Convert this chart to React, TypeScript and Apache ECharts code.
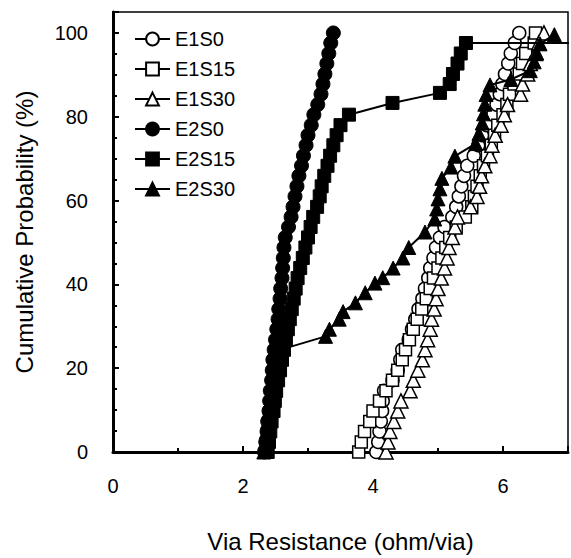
import React, { useEffect, useRef } from "react";
import * as echarts from "echarts";

const seriesNames = ["E1S0", "E1S15", "E1S30", "E2S0", "E2S15", "E2S30"];

const e1s0: [number, number][] = [
  [4.05, 0], [4.08, 2.4], [4.1, 4.9], [4.12, 7.3], [4.14, 9.8], [4.15, 12.2], [4.17, 14.6],
  [4.3, 17.1], [4.38, 19.5], [4.42, 22], [4.45, 24.4], [4.55, 26.8], [4.6, 29.3], [4.65, 31.7],
  [4.7, 34.1], [4.76, 36.6], [4.8, 39], [4.85, 41.5], [4.88, 43.9], [4.93, 46.3], [4.97, 48.8],
  [5.03, 51.2], [5.1, 53.7], [5.22, 56.1], [5.28, 58.5], [5.32, 61], [5.36, 63.4], [5.4, 65.9],
  [5.45, 68.3], [5.55, 70.7], [5.62, 73.2], [5.68, 75.6], [5.75, 78], [5.85, 80.5], [5.9, 82.9],
  [5.95, 85.4], [5.99, 87.8], [6.03, 90.2], [6.08, 92.7], [6.12, 95.1], [6.18, 97.6], [6.25, 100],
];

const e1s15: [number, number][] = [
  [3.78, 0], [3.82, 2.4], [3.87, 4.9], [3.95, 7.3], [4.0, 9.8], [4.1, 12.2], [4.2, 14.6],
  [4.3, 17.1], [4.38, 19.5], [4.45, 22], [4.5, 24.4], [4.56, 26.8], [4.62, 29.3], [4.68, 31.7],
  [4.75, 34.1], [4.82, 36.6], [4.88, 39], [4.93, 41.5], [5.0, 43.9], [5.06, 46.3], [5.12, 48.8],
  [5.18, 51.2], [5.28, 53.7], [5.42, 56.1], [5.52, 58.5], [5.56, 61], [5.6, 63.4], [5.65, 65.9],
  [5.7, 68.3], [5.76, 70.7], [5.82, 73.2], [5.87, 75.6], [5.92, 78], [6.0, 80.5], [6.06, 82.9],
  [6.1, 85.4], [6.17, 87.8], [6.25, 90.2], [6.3, 92.7], [6.35, 95.1], [6.48, 97.6], [6.5, 100],
];

const e1s30: [number, number][] = [
  [4.2, 0], [4.23, 2.4], [4.26, 4.9], [4.32, 7.3], [4.38, 9.8], [4.43, 12.2], [4.57, 14.6],
  [4.62, 17.1], [4.69, 19.5], [4.76, 22], [4.8, 24.4], [4.84, 26.8], [4.88, 29.3], [4.9, 31.7],
  [4.94, 34.1], [4.97, 36.6], [5.0, 39], [5.05, 41.5], [5.1, 43.9], [5.14, 46.3], [5.17, 48.8],
  [5.22, 51.2], [5.26, 53.7], [5.3, 56.1], [5.5, 58.5], [5.6, 61], [5.64, 63.4], [5.67, 65.9],
  [5.72, 68.3], [5.8, 70.7], [5.83, 73.2], [5.88, 75.6], [5.97, 78], [6.02, 80.5], [6.07, 82.9],
  [6.27, 85.4], [6.3, 87.8], [6.38, 90.2], [6.42, 92.7], [6.5, 95.1], [6.55, 97.6], [6.63, 100],
];

const e2s0: [number, number][] = [
  [2.33, 0], [2.35, 2.4], [2.37, 4.9], [2.38, 7.3], [2.4, 9.8], [2.41, 12.2], [2.42, 14.6],
  [2.44, 17.1], [2.45, 19.5], [2.46, 22], [2.48, 24.4], [2.5, 26.8], [2.52, 29.3], [2.54, 31.7],
  [2.55, 34.1], [2.57, 36.6], [2.58, 39], [2.6, 41.5], [2.61, 43.9], [2.62, 46.3], [2.63, 48.8],
  [2.65, 51.2], [2.7, 53.7], [2.74, 56.1], [2.77, 58.5], [2.8, 61], [2.83, 63.4], [2.86, 65.9],
  [2.9, 68.3], [2.93, 70.7], [2.97, 73.2], [3.0, 75.6], [3.05, 78], [3.09, 80.5], [3.15, 82.9],
  [3.2, 85.4], [3.23, 87.8], [3.26, 90.2], [3.29, 92.7], [3.32, 95.1], [3.35, 97.6], [3.39, 100],
];

const e2s15: [number, number][] = [
  [2.38, 0], [2.4, 2.4], [2.42, 4.9], [2.44, 7.3], [2.47, 9.8], [2.49, 12.2], [2.51, 14.6],
  [2.54, 17.1], [2.57, 19.5], [2.6, 22], [2.63, 24.4], [2.66, 26.8], [2.69, 29.3], [2.72, 31.7],
  [2.75, 34.1], [2.78, 36.6], [2.81, 39], [2.84, 41.5], [2.88, 43.9], [2.92, 46.3], [2.96, 48.8],
  [3.0, 51.2], [3.04, 53.7], [3.08, 56.1], [3.14, 58.5], [3.18, 61], [3.21, 63.4], [3.25, 65.9],
  [3.3, 68.3], [3.34, 70.7], [3.39, 73.2], [3.44, 75.6], [3.5, 78], [3.63, 80.5], [4.3, 83.3],
  [5.03, 85.7], [5.18, 87.8], [5.23, 90.2], [5.3, 92.7], [5.35, 95.1], [5.43, 97.6], [7.6, 97.6],
];

const e2s30: [number, number][] = [
  [2.32, 0], [2.34, 2.4], [2.36, 4.9], [2.38, 7.3], [2.4, 9.8], [2.42, 12.2], [2.44, 14.6],
  [2.46, 17.1], [2.49, 19.5], [2.53, 22], [2.62, 24.6], [3.27, 27.6], [3.33, 29.3], [3.48, 31.7],
  [3.54, 33.5], [3.73, 35.6], [3.88, 38], [4.03, 40.3], [4.15, 41.6], [4.31, 43.9], [4.46, 46.3],
  [4.55, 48.8], [4.8, 52.5], [4.95, 55.6], [4.98, 58], [5.0, 60.4], [5.03, 62.8], [5.06, 65.3],
  [5.2, 68], [5.26, 70.6], [5.58, 73.6], [5.63, 76], [5.68, 78.5], [5.7, 80.7], [5.72, 83],
  [5.74, 85.3], [5.8, 87.6], [6.12, 88.9], [6.42, 91], [6.48, 93.1], [6.52, 95.2], [6.57, 97.4],
  [6.79, 99.6],
];

const xTicks = [0, 2, 4, 6];
const yTicks = [0, 20, 40, 60, 80, 100];

const FONT = "'Liberation Sans', Arial, sans-serif";

export default function App() {
  const ref = useRef<HTMLDivElement>(null);
  useEffect(() => {
    if (!ref.current) return;
    const chart = echarts.init(ref.current, undefined, { renderer: "svg" });
    const hollow = { color: "#ffffff", borderColor: "#000000", borderWidth: 1.5 };
    const solid = { color: "#000000", borderColor: "#000000", borderWidth: 1 };
    const mk = (
      name: string,
      data: [number, number][],
      symbol: string,
      size: number,
      filled: boolean
    ) => ({
      name,
      type: "line",
      data,
      symbol,
      symbolSize: size,
      showSymbol: true,
      clip: true,
      lineStyle: { color: "#000000", width: filled ? 2 : 1.5 },
      itemStyle: filled ? solid : hollow,
      emphasis: { disabled: true },
      z: filled ? 3 : 2,
    });
    chart.setOption({
      animation: false,
      backgroundColor: "#ffffff",
      textStyle: { fontFamily: FONT, color: "#000" },
      grid: {
        left: 113,
        right: 1,
        top: 12,
        bottom: 105,
        show: true,
        borderColor: "#000",
        borderWidth: 1.5,
        containLabel: false,
      },
      legend: {
        orient: "vertical",
        left: 129,
        top: 24,
        itemWidth: 35,
        itemHeight: 16,
        itemGap: 10,
        data: seriesNames,
        textStyle: { fontFamily: FONT, fontSize: 20, color: "#000" },
        selectedMode: false,
      },
      xAxis: {
        type: "value",
        min: 0,
        max: 7,
        interval: 2,
        name: "Via Resistance (ohm/via)",
        nameLocation: "middle",
        nameGap: 77,
        nameTextStyle: { fontFamily: FONT, fontSize: 24, color: "#000" },
        axisLine: { show: true, onZero: false, lineStyle: { color: "#000", width: 3 } },
        axisTick: { show: true, inside: true, length: 6, lineStyle: { color: "#000", width: 2 } },
        minorTick: { show: true, splitNumber: 2, length: 4, lineStyle: { color: "#000", width: 2 } },
        splitLine: { show: false },
        axisLabel: {
          fontFamily: FONT,
          fontSize: 20,
          color: "#000",
          margin: 24,
          formatter: (v: number) => (xTicks.includes(v) ? String(v) : ""),
        },
      },
      yAxis: {
        type: "value",
        min: 0,
        max: 105,
        interval: 20,
        name: "Cumulative Probability (%)",
        nameLocation: "middle",
        nameGap: 77,
        nameTextStyle: { fontFamily: FONT, fontSize: 24, color: "#000" },
        axisLine: { show: true, onZero: false, lineStyle: { color: "#000", width: 3 } },
        axisTick: { show: true, inside: true, length: 6, lineStyle: { color: "#000", width: 2 } },
        minorTick: { show: true, splitNumber: 4, length: 4, lineStyle: { color: "#000", width: 2 } },
        splitLine: { show: false },
        axisLabel: {
          fontFamily: FONT,
          fontSize: 20,
          color: "#000",
          margin: 25,
          formatter: (v: number) => (yTicks.includes(v) ? String(v) : ""),
        },
      },
      series: [
        mk("E1S0", e1s0, "circle", 13, false),
        mk("E1S15", e1s15, "rect", 12, false),
        mk("E1S30", e1s30, "triangle", 14, false),
        mk("E2S0", e2s0, "circle", 14, true),
        mk("E2S15", e2s15, "rect", 13, true),
        mk("E2S30", e2s30, "triangle", 14, true),
      ],
    });
    return () => chart.dispose();
  }, []);
  return (
    <div
      ref={ref}
      style={{ position: "fixed", left: 0, top: 0, width: 571, height: 558, background: "#fff" }}
    />
  );
}
